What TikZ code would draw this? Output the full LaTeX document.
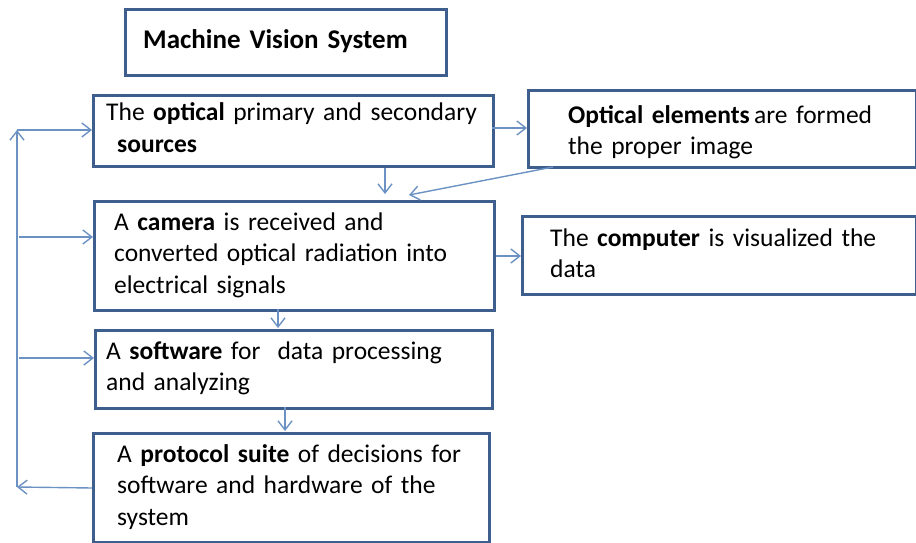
\documentclass[tikz,border=0pt]{standalone}
\usepackage{fontspec}
\setmainfont{Carlito}
\usetikzlibrary{arrows.meta}
\definecolor{boxblue}{RGB}{62,95,142}
\definecolor{arrblue}{RGB}{108,146,196}
\begin{document}
\begin{tikzpicture}[x=1pt,y=-1pt,
  box/.style={draw=boxblue,line width=3pt,fill=white,anchor=north west,inner sep=0pt},
  txt/.style={anchor=base west,inner sep=0pt,align=left,text width=420pt,
    font=\fontsize{25.5}{31.5}\selectfont},
  arr/.style={draw=arrblue,line width=1.4pt,-{Straight Barb[length=9pt,width=14pt]}},
  ln/.style={draw=arrblue,line width=1.4pt}]
\useasboundingbox (0,0) rectangle (916,543);
% boxes
\node[box,minimum width=321pt,minimum height=66pt] (title) at (124,8) {};
\node[box,minimum width=400pt,minimum height=71pt] (b1) at (92,94) {};
\node[box,minimum width=388pt,minimum height=77pt] (b2) at (527,89) {};
\node[box,minimum width=400pt,minimum height=109pt] (b3) at (93,200) {};
\node[box,minimum width=394pt,minimum height=78pt] (b4) at (521,215) {};
\node[box,minimum width=397pt,minimum height=78pt] (b5) at (94,329) {};
\node[box,minimum width=396pt,minimum height=109pt] (b6) at (92,432) {};
% texts
\node[txt,font=\fontsize{27}{30}\selectfont\bfseries] (t0) at (143,49) {Machine Vision System};
\node[txt] (t1) at (106,121) {The \textbf{optical} primary and secondary\\\hspace*{11pt}\textbf{sources}};
\node[txt] (t2) at (568,123) {\textbf{Optical elements}\,are formed\\the proper image};
\node[txt] (t3) at (114,230) {A \textbf{camera} is received and\\converted optical radiation into\\electrical signals};
\node[txt] (t4) at (550,246) {The \textbf{computer} is visualized the\\data};
\node[txt] (t5) at (106,359) {A \textbf{software} for\ \ data processing\\and analyzing};
\node[txt] (t6) at (117,462) {A \textbf{protocol suite} of decisions for\\software and hardware of the\\system};
% coordinates
\coordinate (busTop) at (17,130);
\coordinate (busBot) at (17,487);
\coordinate (bus3) at (19,237);
\coordinate (bus5) at (19,358);
\coordinate (r12) at (492,128);
\coordinate (d1) at (385,194);
\coordinate (s2) at (553,167);
\coordinate (d2) at (409,195);
% connectors
\draw[arr] (b6.west) -- (busBot);
\draw[arr] (busBot) -- (busTop);
\draw[arr] (busTop) -- (busTop -| b1.west);
\draw[arr] (bus3) -- (bus3 -| b3.west);
\draw[arr] (bus5) -- (bus5 -| b5.west);
\draw[arr] (r12) -- (r12 -| b2.west);
\draw[arr] (d1 |- b1.south) -- (d1);
\draw[arr] (s2) -- (d2);
\draw[arr] (b3.east) -- (b3.east -| b4.west);
\draw[arr] (278,309) -- (278,328);
\draw[arr] (285,407) -- (285,431);
\end{tikzpicture}
\end{document}
